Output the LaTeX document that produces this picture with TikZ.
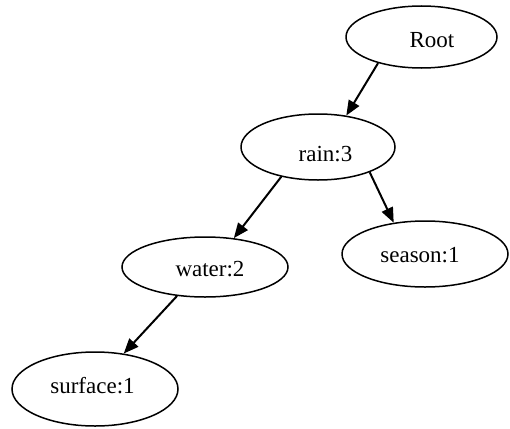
\documentclass[tikz,border=0pt]{standalone}
\usepackage{fontspec}
\setmainfont{Liberation Serif}
\usetikzlibrary{arrows.meta,shapes.geometric}
\begin{document}
\begin{tikzpicture}[x=1pt,y=-1pt,
  treenode/.style={draw=black,ellipse,line width=1.5pt,inner sep=0pt},
  lbl/.style={anchor=base,inner sep=0pt,font=\fontsize{23}{27}\selectfont},
  edge/.style={line width=2pt,-{Triangle[length=15pt,width=12pt]}}]
  \useasboundingbox (0,0) rectangle (510,428);
  % tree nodes
  \node[treenode,minimum width=151pt,minimum height=62pt] (root)    at (421.5,37) {};
  \node[treenode,minimum width=154pt,minimum height=66pt] (rain)    at (318,147) {};
  \node[treenode,minimum width=166pt,minimum height=60pt] (water)   at (205,267) {};
  \node[treenode,minimum width=166pt,minimum height=66pt] (season)  at (425,254) {};
  \node[treenode,minimum width=166pt,minimum height=74pt] (surface) at (95,389) {};
  % labels
  \node[lbl] (troot)    at (432,47)    {Root};
  \node[lbl] (train)    at (325.5,161) {rain:3};
  \node[lbl] (twater)   at (210,276)   {water:2};
  \node[lbl] (tseason)  at (420,262)   {season:1};
  \node[lbl] (tsurface) at (92.5,393)  {surface:1};
  % edges
  \draw[edge] (root.211)  -- (rain.48);
  \draw[edge] (rain.219)  -- (water.45);
  \draw[edge] (rain.334)  -- (season.135);
  \draw[edge] (water.226) -- (surface.51);
\end{tikzpicture}
\end{document}
